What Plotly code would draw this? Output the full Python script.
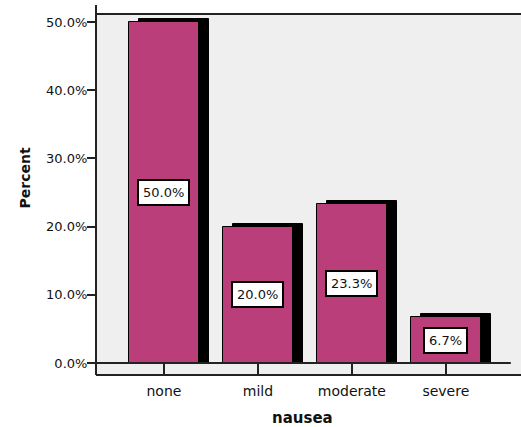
import plotly.graph_objects as go

# ---- data ----
categories = ["none", "mild", "moderate", "severe"]
percents = [50.0, 20.0, 23.3, 6.7]
y_tick_values = [0, 10, 20, 30, 40, 50]
y_tick_labels = ["0.0%", "10.0%", "20.0%", "30.0%", "40.0%", "50.0%"]

# ---- style ----
BAR_COLOR = "#B93E7A"
PLOT_BG = "#EFEFEF"
FONT = "DejaVu Sans"
BAR_W = 0.745
DEPTH_X = 0.112   # 3-D extrusion offset (x units)
DEPTH_Y = 0.44    # 3-D extrusion offset (% units)

xs = list(range(len(categories)))

fig = go.Figure()

# 3-D shadow (drawn first, behind)
fig.add_trace(go.Bar(
    x=xs, y=[v + DEPTH_Y for v in percents],
    width=BAR_W, offset=-BAR_W / 2 + DEPTH_X,
    marker=dict(color="black", line=dict(color="black", width=1)),
    hoverinfo="skip", showlegend=False,
))
# front bars
fig.add_trace(go.Bar(
    x=xs, y=percents,
    width=BAR_W, offset=-BAR_W / 2,
    marker=dict(color=BAR_COLOR, line=dict(color="black", width=1)),
    showlegend=False,
))

# value labels in white boxes
for xi, v in zip(xs, percents):
    fig.add_annotation(
        x=xi, y=v / 2, xref="x", yref="y",
        text=f"{v:.1f}%", showarrow=False,
        font=dict(family=FONT, size=13, color="#111"),
        bgcolor="white", bordercolor="black", borderwidth=2, borderpad=4,
    )

# axis titles
fig.add_annotation(
    x=-0.19, y=0.545, xref="paper", yref="paper",
    text="Percent", textangle=-90, showarrow=False,
    font=dict(family=FONT, size=14, color="#111", weight="bold"),
)
fig.add_annotation(
    x=0.485, y=-0.118, xref="paper", yref="paper",
    text="nausea", showarrow=False, yanchor="middle",
    font=dict(family=FONT, size=15, color="#111", weight="bold"),
)

# frame lines
line_k = dict(color="#222", width=2)
fig.add_shape(type="line", xref="paper", yref="paper", x0=0, x1=1, y0=1, y1=1, line=line_k)
fig.add_shape(type="line", xref="paper", yref="paper", x0=0, x1=0, y0=0, y1=1.025, line=line_k)
fig.add_shape(type="line", xref="paper", yref="paper", x0=0, x1=1, y0=0, y1=0, line=line_k)
fig.add_shape(type="line", xref="paper", yref="y", x0=0, x1=0.976, y0=0, y1=0, line=line_k)

fig.update_layout(
    width=521, height=427,
    margin=dict(l=96, r=0, t=14, b=52),
    paper_bgcolor="white", plot_bgcolor=PLOT_BG,
    barmode="overlay", bargap=0,
    font=dict(family=FONT, color="#111"),
    xaxis=dict(
        range=[-0.723, 3.80],
        tickmode="array", tickvals=xs, ticktext=categories,
        anchor="free", position=12 / 361,
        ticks="outside", ticklen=10, tickwidth=1.5, tickcolor="#222",
        ticklabelstandoff=5,
        tickfont=dict(family=FONT, size=14, color="#111"),
        showline=False, showgrid=False, zeroline=False,
    ),
    yaxis=dict(
        range=[-1.76, 51.17],
        tickmode="array", tickvals=y_tick_values, ticktext=y_tick_labels,
        ticks="outside", ticklen=8, tickwidth=1.5, tickcolor="#222",
        ticklabelstandoff=-3,
        tickfont=dict(family=FONT, size=13, color="#111"),
        showline=False, showgrid=False, zeroline=False,
    ),
)

fig.write_html("out.html")
